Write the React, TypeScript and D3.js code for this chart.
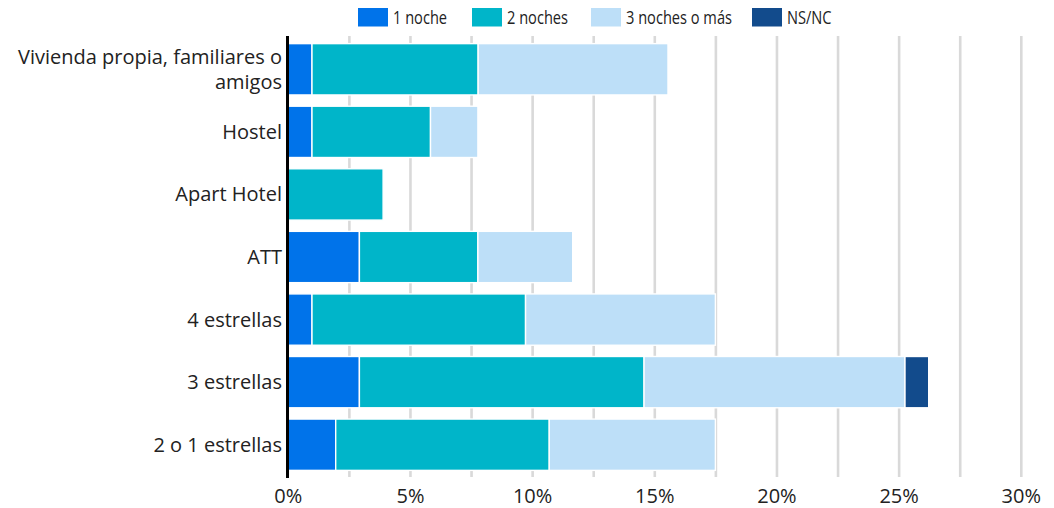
import React from 'react';
import * as d3 from 'd3';

// Share of stays by accommodation type and length of stay (%)
const categories = [
  'Vivienda propia, familiares o amigos',
  'Hostel',
  'Apart Hotel',
  'ATT',
  '4 estrellas',
  '3 estrellas',
  '2 o 1 estrellas',
];

const seriesNames = ['1 noche', '2 noches', '3 noches o más', 'NS/NC'];

const unaNoche = [0.97, 0.97, 0, 2.91, 0.97, 2.91, 1.94];
const dosNoches = [6.8, 4.85, 3.88, 4.85, 8.74, 11.65, 8.74];
const tresNoches = [7.77, 1.94, 0, 3.88, 7.77, 10.68, 6.8];
const nsnc = [0, 0, 0, 0, 0, 0.97, 0];

const xTicks = [0, 5, 10, 15, 20, 25, 30];
const gridTicks = [2.5, 5, 7.5, 10, 12.5, 15, 17.5, 20, 22.5, 25, 27.5, 30];

const colors = ['#0073ea', '#00b5c9', '#bddff8', '#124b8c'];

const W = 1054;
const H = 508;
const FONT = '"Open Sans", "Noto Sans", sans-serif';

export default function App() {
  if (typeof document !== 'undefined') document.body.style.margin = '0';

  const x = d3.scaleLinear().domain([0, 30]).range([288.3, 1021.3]);
  const y = d3.scaleBand<string>().domain(categories).range([38, 476]).paddingInner(0.18).paddingOuter(0.09);

  const rows = categories.map((c, i) => ({
    cat: c,
    vals: [unaNoche[i], dosNoches[i], tresNoches[i], nsnc[i]],
  }));

  const stackKeys = seriesNames.map((_, i) => i);
  const stacked = d3
    .stack<{ cat: string; vals: number[] }, number>()
    .keys(stackKeys)
    .value((d, k) => d.vals[k])(rows);

  // legend text is a little condensed in the original
  const legendX = [358, 472, 591, 752];
  const legendScale = 0.79;

  const wrapLabel = (s: string) =>
    s === 'Vivienda propia, familiares o amigos' ? ['Vivienda propia, familiares o', 'amigos'] : [s];

  return (
    <svg width={W} height={H} style={{ display: 'block', fontFamily: FONT }}>
      {/* grid */}
      {gridTicks.map(t => (
        <line key={t} x1={x(t)} x2={x(t)} y1={36} y2={477} stroke="#d9d9d9" strokeWidth={2.6} />
      ))}

      {/* bars */}
      {stacked.map((layer, si) =>
        layer.map((d, ci) => {
          const w = x(d[1]) - x(d[0]);
          if (w <= 0) return null;
          return (
            <rect
              key={`${si}-${ci}`}
              x={x(d[0])}
              y={y(categories[ci])}
              width={w}
              height={y.bandwidth()}
              fill={colors[si]}
              stroke="#fff"
              strokeWidth={1.4}
            />
          );
        })
      )}

      {/* axis line */}
      <line x1={287.5} x2={287.5} y1={36} y2={478} stroke="#000" strokeWidth={3} />

      {/* category labels */}
      {categories.map(c => {
        const lines = wrapLabel(c);
        const cy = (y(c) as number) + y.bandwidth() / 2;
        return (
          <text key={c} x={282} y={cy} textAnchor="end" fontSize={20} fill="#222">
            {lines.map((l, i) => (
              <tspan key={i} x={282} y={cy + 7 + (i - (lines.length - 1) / 2) * 25}>
                {l}
              </tspan>
            ))}
          </text>
        );
      })}

      {/* x tick labels */}
      {xTicks.map(t => (
        <text key={t} x={x(t)} y={503} textAnchor="middle" fontSize={20} fill="#222">
          {`${t}%`}
        </text>
      ))}

      {/* legend */}
      {seriesNames.map((s, i) => (
        <g key={s} transform={`translate(${legendX[i]},8)`}>
          <rect width={30} height={18.5} fill={colors[i]} />
          <text transform={`translate(35,16) scale(${legendScale},1)`} fontSize={18.5} fill="#222">
            {s}
          </text>
        </g>
      ))}
    </svg>
  );
}
